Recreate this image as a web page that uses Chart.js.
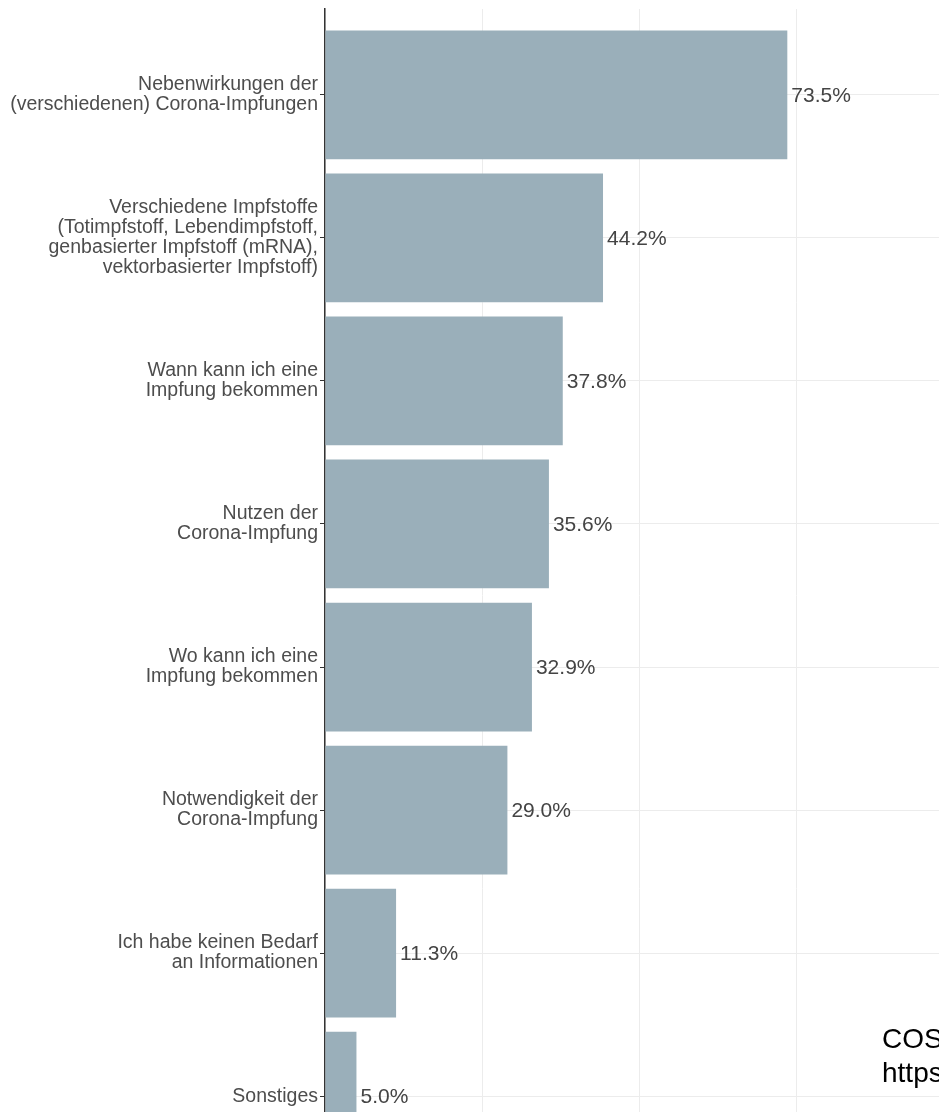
<!DOCTYPE html>
<html>
<head>
<meta charset="utf-8">
<script src="https://cdn.jsdelivr.net/npm/chart.js@4"></script>
<style>
  html, body { margin: 0; padding: 0; overflow: hidden; background: #fff; }
  #wrap { position: absolute; left: 0; top: 0; width: 1000px; height: 1200px; }
</style>
</head>
<body>
<div id="wrap"><canvas id="infoChart"></canvas></div>
<script>
// category labels (top to bottom)
var topics = [
  ["Nebenwirkungen der", "(verschiedenen) Corona-Impfungen"],
  ["Verschiedene Impfstoffe", "(Totimpfstoff, Lebendimpfstoff,", "genbasierter Impfstoff (mRNA),", "vektorbasierter Impfstoff)"],
  ["Wann kann ich eine", "Impfung bekommen"],
  ["Nutzen der", "Corona-Impfung"],
  ["Wo kann ich eine", "Impfung bekommen"],
  ["Notwendigkeit der", "Corona-Impfung"],
  ["Ich habe keinen Bedarf", "an Informationen"],
  ["Sonstiges"]
];
// percent of respondents
var shares = [73.5, 44.2, 37.8, 35.6, 32.9, 29.0, 11.3, 5.0];
// caption in the lower right corner (cut off by the frame)
var caption = ["COSMO", "https://projekte.uni-erfurt.de/cosmo2020/"];

Chart.defaults.font.family = "'Liberation Sans', Arial, sans-serif";

var barLabels = {
  id: 'barLabels',
  afterDatasetsDraw: function(chart) {
    var ctx = chart.ctx;
    var meta = chart.getDatasetMeta(0);
    ctx.save();
    ctx.font = "21px 'Liberation Sans', Arial, sans-serif";
    ctx.fillStyle = "#444";
    ctx.textAlign = "left";
    ctx.textBaseline = "middle";
    meta.data.forEach(function(bar, i) {
      ctx.fillText(shares[i].toFixed(1) + "%", bar.x + 4, bar.y + 1);
    });
    ctx.restore();
  }
};

var captionText = {
  id: 'captionText',
  afterDraw: function(chart) {
    var ctx = chart.ctx;
    ctx.save();
    ctx.font = "28px 'Liberation Sans', Arial, sans-serif";
    ctx.fillStyle = "#000";
    ctx.textAlign = "left";
    ctx.textBaseline = "alphabetic";
    ctx.fillText(caption[0], 882, 1048);
    ctx.fillText(caption[1], 882, 1082);
    ctx.restore();
  }
};

var ctx = document.getElementById("infoChart");
var infoChart = new Chart(ctx, {
  type: 'bar',
  data: {
    datasets: [{
      data: shares.map(function(v, i) { return { x: v, y: i }; }),
      backgroundColor: "#9aafba",
      borderWidth: 0,
      barPercentage: 0.9,
      categoryPercentage: 1
    }]
  },
  options: {
    indexAxis: 'y',
    responsive: true,
    maintainAspectRatio: false,
    animation: false,
    layout: { padding: { left: 0, top: 9, right: 46, bottom: 18 } },
    plugins: { legend: { display: false }, tooltip: { enabled: false } },
    scales: {
      x: {
        type: 'linear',
        min: 0,
        max: 100,
        afterFit: function(scale) { scale.height = 0; scale.paddingLeft = 0; scale.paddingRight = 0; },
        ticks: { display: false, stepSize: 25 },
        grid: { color: "#ececec", drawTicks: false },
        border: { display: false }
      },
      y: {
        type: 'linear',
        reverse: true,
        offset: false,
        min: -0.6,
        max: 7.6,
        afterFit: function(scale) {
          scale.width = 325;
          scale.paddingTop = 0;
          scale.paddingBottom = 0;
        },
        afterBuildTicks: function(scale) {
          scale.ticks = topics.map(function(t, i) { return { value: i }; });
        },
        ticks: {
          autoSkip: false,
          padding: 2,
          color: "#4d4d4d",
          font: { size: 19.5, lineHeight: '20px' },
          callback: function(v) { return topics[v]; }
        },
        grid: { offset: false, color: "#ececec", tickColor: "#333", tickLength: 5 },
        border: { color: "#333", width: 1.5 }
      }
    }
  },
  plugins: [barLabels, captionText]
});
</script>
</body>
</html>
